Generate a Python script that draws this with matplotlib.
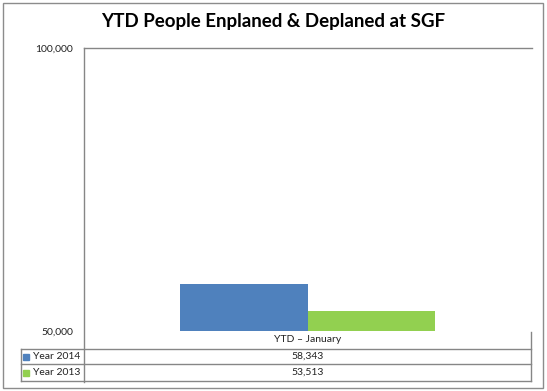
import matplotlib
matplotlib.use("Agg")
import matplotlib.pyplot as plt
from matplotlib.lines import Line2D
from matplotlib.patches import Rectangle

title = "YTD People Enplaned & Deplaned at SGF"
categories = ["YTD \u2013 January"]
series_names = ["Year 2014", "Year 2013"]
values_2014 = [58343]
values_2013 = [53513]
colors = ["#4F81BD", "#92D050"]
ymin, ymax = 50000, 100000

W, H = 547, 391
fig = plt.figure(figsize=(W / 100, H / 100), dpi=100)
plt.rcParams['font.family'] = ['Lato', 'DejaVu Sans']

def fx(x):
    return x / W

def fy(y):
    return 1 - y / H

L, R, T, B = 84, 531, 48, 331
ax = fig.add_axes([fx(L), fy(B), fx(R) - fx(L), fy(T) - fy(B)])
ax.set_xlim(-0.5, 0.5)
ax.set_ylim(ymin, ymax)
bw = 0.285
ax.bar([-bw / 2], values_2014, width=bw, color=colors[0], bottom=0)
ax.bar([bw / 2], values_2013, width=bw, color=colors[1], bottom=0)
for s in ax.spines.values():
    s.set_visible(False)
ax.set_xticks([])
ax.set_yticks([ymin, ymax])
ax.set_yticklabels([f"{ymin:,}", f"{ymax:,}"], fontsize=7.5, color="#222222")
ax.tick_params(axis="y", length=0, pad=8)

gray = "#868686"
def line(x0, y0, x1, y1, c=gray, lw=1.0):
    fig.add_artist(Line2D([fx(x0), fx(x1)], [fy(y0), fy(y1)], color=c, lw=lw,
                          transform=fig.transFigure))

# outer border
fig.add_artist(Rectangle((fx(3), fy(388)), fx(543) - fx(3), fy(3) - fy(388),
                         fill=False, edgecolor="#8C8C8C", lw=1.0, transform=fig.transFigure))
line(L, T, 532, T)
line(L, T, L, 382)
line(R, 332, R, 381)
for yy in (349, 364, 381):
    line(21, yy, R, yy)
line(21, 349, 21, 381)

fig.text(0.5, fy(22), title, ha="center", va="center", fontsize=13.5, fontweight="bold")

cx = fx((L + R) / 2)
fig.text(cx, fy(340), categories[0], ha="center", va="center", fontsize=7.5, color="#222222")
rows_y = [356.5, 372.5]
vals = [values_2014[0], values_2013[0]]
for i, (name, v, c) in enumerate(zip(series_names, vals, colors)):
    y = rows_y[i]
    fig.add_artist(Rectangle((fx(23), fy(y + 3)), fx(6), 6 / H, color=c,
                             transform=fig.transFigure))
    fig.text(fx(33), fy(y), name, ha="left", va="center", fontsize=7.5, color="#222222")
    fig.text(cx, fy(y), f"{v:,}", ha="center", va="center", fontsize=7.5, color="#222222")

fig.savefig("out.png", dpi=100)
